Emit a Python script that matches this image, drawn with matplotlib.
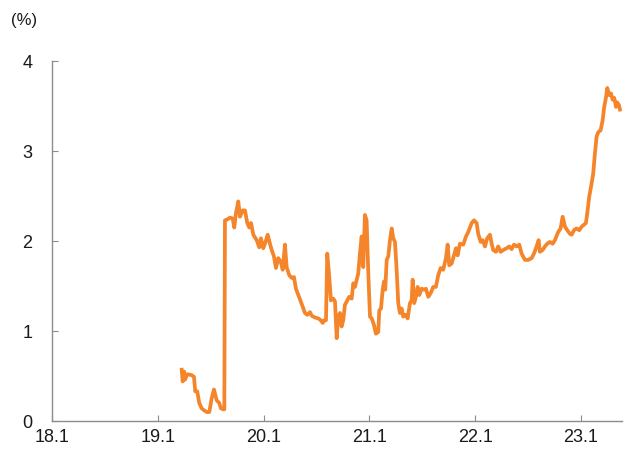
import matplotlib
matplotlib.use("Agg")
import matplotlib.pyplot as plt

# x: decimal year (2018.0 = Jan 2018), y: percent
years = [
    2019.226, 2019.235, 2019.248, 2019.257, 2019.279, 2019.320, 2019.342, 2019.354, 2019.373, 2019.392,
    2019.415, 2019.437, 2019.462, 2019.487, 2019.509, 2019.531, 2019.557, 2019.581, 2019.597, 2019.619,
    2019.629, 2019.635, 2019.657, 2019.682, 2019.708, 2019.723, 2019.739, 2019.761, 2019.777, 2019.802,
    2019.824, 2019.846, 2019.865, 2019.881, 2019.903, 2019.935, 2019.959, 2019.975, 2019.997, 2020.013,
    2020.039, 2020.060, 2020.077, 2020.098, 2020.117, 2020.139, 2020.162, 2020.181, 2020.202, 2020.218,
    2020.243, 2020.266, 2020.287, 2020.306, 2020.328, 2020.351, 2020.370, 2020.391, 2020.413, 2020.439,
    2020.455, 2020.486, 2020.517, 2020.540, 2020.559, 2020.574, 2020.590, 2020.602, 2020.621, 2020.637,
    2020.659, 2020.675, 2020.691, 2020.706, 2020.722, 2020.738, 2020.753, 2020.769, 2020.791, 2020.810,
    2020.833, 2020.848, 2020.864, 2020.880, 2020.895, 2020.911, 2020.927, 2020.942, 2020.958, 2020.974,
    2020.990, 2021.006, 2021.022, 2021.043, 2021.062, 2021.084, 2021.094, 2021.110, 2021.126, 2021.138,
    2021.150, 2021.164, 2021.179, 2021.195, 2021.211, 2021.226, 2021.242, 2021.258, 2021.273, 2021.289,
    2021.305, 2021.320, 2021.343, 2021.362, 2021.384, 2021.400, 2021.409, 2021.424, 2021.440, 2021.456,
    2021.472, 2021.494, 2021.516, 2021.535, 2021.557, 2021.579, 2021.604, 2021.629, 2021.651, 2021.674,
    2021.698, 2021.724, 2021.740, 2021.755, 2021.778, 2021.800, 2021.819, 2021.834, 2021.856, 2021.888,
    2021.913, 2021.935, 2021.967, 2021.989, 2022.014, 2022.029, 2022.052, 2022.071, 2022.093, 2022.114,
    2022.140, 2022.156, 2022.171, 2022.197, 2022.218, 2022.241, 2022.266, 2022.298, 2022.322, 2022.345,
    2022.367, 2022.392, 2022.417, 2022.439, 2022.471, 2022.502, 2022.534, 2022.556, 2022.581, 2022.600,
    2022.612, 2022.638, 2022.660, 2022.681, 2022.707, 2022.733, 2022.754, 2022.785, 2022.808, 2022.827,
    2022.849, 2022.871, 2022.896, 2022.912, 2022.934, 2022.959, 2022.984, 2023.007, 2023.028, 2023.047,
    2023.060, 2023.078, 2023.101, 2023.116, 2023.132, 2023.148, 2023.164, 2023.186, 2023.205, 2023.220,
    2023.236, 2023.249, 2023.268, 2023.284, 2023.300, 2023.315, 2023.331, 2023.343, 2023.359, 2023.369,
]
values = [
    0.57, 0.44, 0.55, 0.46, 0.52, 0.51, 0.49, 0.33, 0.33, 0.20,
    0.14, 0.12, 0.10, 0.10, 0.25, 0.35, 0.23, 0.20, 0.14, 0.13,
    0.13, 2.23, 2.24, 2.26, 2.25, 2.15, 2.31, 2.44, 2.27, 2.34,
    2.34, 2.20, 2.15, 2.20, 2.07, 2.01, 1.93, 2.03, 1.92, 1.97,
    2.07, 1.97, 1.90, 1.83, 1.70, 1.81, 1.77, 1.68, 1.96, 1.71,
    1.62, 1.59, 1.60, 1.47, 1.40, 1.33, 1.27, 1.20, 1.18, 1.21,
    1.17, 1.15, 1.14, 1.12, 1.09, 1.12, 1.12, 1.86, 1.60, 1.34,
    1.36, 1.33, 0.92, 1.16, 1.20, 1.05, 1.12, 1.29, 1.34, 1.38,
    1.36, 1.53, 1.49, 1.57, 1.64, 1.86, 2.05, 1.71, 2.29, 2.23,
    1.64, 1.16, 1.14, 1.07, 0.97, 0.99, 1.23, 1.25, 1.46, 1.55,
    1.46, 1.79, 1.83, 2.01, 2.14, 2.03, 1.99, 1.68, 1.31, 1.20,
    1.25, 1.16, 1.18, 1.14, 1.31, 1.34, 1.57, 1.31, 1.38, 1.49,
    1.40, 1.47, 1.46, 1.47, 1.38, 1.42, 1.49, 1.49, 1.62, 1.70,
    1.68, 1.81, 1.96, 1.73, 1.75, 1.84, 1.92, 1.84, 1.97, 1.96,
    2.05, 2.10, 2.20, 2.23, 2.20, 2.08, 1.99, 2.01, 1.94, 2.03,
    2.07, 1.97, 1.90, 1.88, 1.94, 1.88, 1.90, 1.92, 1.94, 1.91,
    1.96, 1.94, 1.96, 1.86, 1.79, 1.79, 1.81, 1.86, 1.94, 2.01,
    1.88, 1.90, 1.94, 1.97, 1.99, 1.97, 2.01, 2.10, 2.14, 2.27,
    2.16, 2.12, 2.08, 2.07, 2.12, 2.14, 2.12, 2.16, 2.18, 2.20,
    2.31, 2.49, 2.64, 2.75, 2.97, 3.16, 3.21, 3.23, 3.34, 3.49,
    3.59, 3.70, 3.62, 3.64, 3.57, 3.59, 3.49, 3.54, 3.51, 3.46,
]
tick_pos = [2018, 2019, 2020, 2021, 2022, 2023]
tick_labels = ["18.1", "19.1", "20.1", "21.1", "22.1", "23.1"]
y_ticks = [0, 1, 2, 3, 4]

plt.rcParams['font.family'] = ['Liberation Sans', 'DejaVu Sans']

fig = plt.figure(figsize=(6.25, 4.53), dpi=100)
ax = fig.add_axes([0.0832, 0.0706, 0.9118, 0.7947])
ax.plot(years, values, color="#F5852A", lw=2.7, solid_joinstyle="round")

ax.set_xlim(2018, 2023.387)
ax.set_ylim(0, 4)
ax.set_xticks(tick_pos)
ax.set_xticklabels(tick_labels)
ax.set_yticks(y_ticks)
for s in ["top", "right"]:
    ax.spines[s].set_visible(False)
for s in ["left", "bottom"]:
    ax.spines[s].set_color("#8c8c8c")
    ax.spines[s].set_linewidth(1.0)
ax.tick_params(axis="both", direction="in", length=4, color="#8c8c8c",
               labelsize=13, labelcolor="#1a1a1a")
ax.tick_params(axis="y", pad=14)
ax.tick_params(axis="x", pad=6)
fig.text(0.018, 0.955, "(%)", fontsize=12, color="#1a1a1a", va="center", ha="left")

fig.savefig("out.png", dpi=100)
